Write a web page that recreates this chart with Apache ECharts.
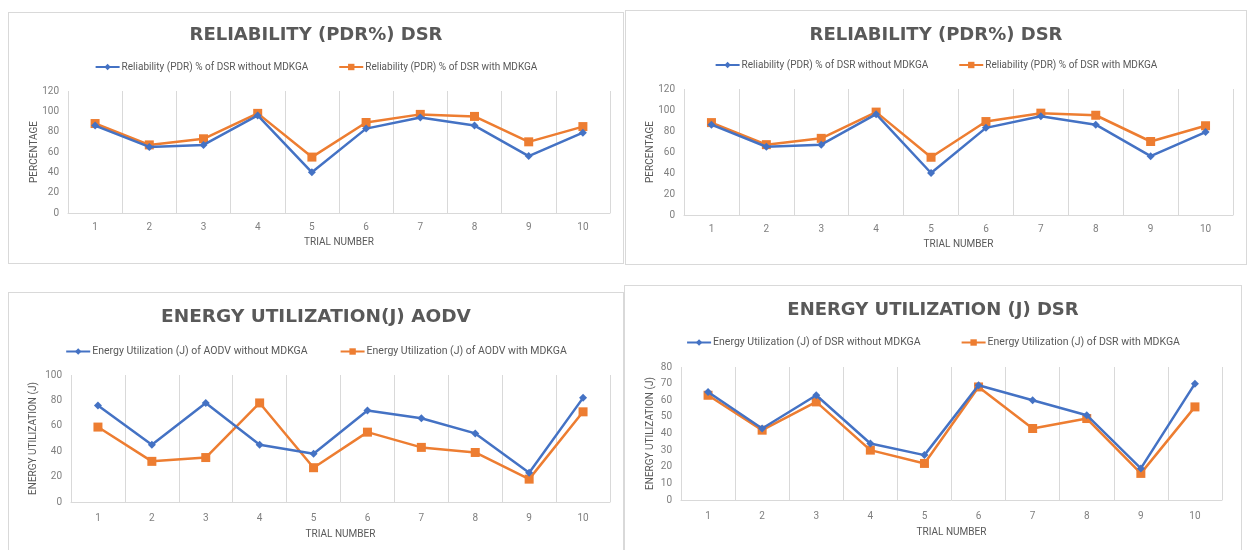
<!DOCTYPE html>
<html>
<head>
<meta charset="utf-8">
<script src="https://cdn.jsdelivr.net/npm/echarts@6/dist/echarts.min.js"></script>
<style>
  html, body { margin: 0; padding: 0; background: #fff; width: 1248px; height: 550px; overflow: hidden; }
  .panel { position: absolute; box-sizing: border-box; border: 1px solid #d9d9d9; background: #fff; }
</style>
</head>
<body>
<div id="p1" class="panel" style="left:8px; top:12px; width:616px; height:252px;"></div>
<div id="p2" class="panel" style="left:625px; top:10px; width:622px; height:255px;"></div>
<div id="p3" class="panel" style="left:8px; top:292px; width:616px; height:262px;"></div>
<div id="p4" class="panel" style="left:624px; top:285px; width:618px; height:269px;"></div>
<script>
// Trial numbers on the x axis
const trials = ['1', '2', '3', '4', '5', '6', '7', '8', '9', '10'];

// Packet delivery ratio (%) for DSR
const pdrDsrWithout = [86, 65, 67, 96, 40, 83, 94, 86, 56, 79];
const pdrDsrWith    = [88, 67, 73, 98, 55, 89, 97, 95, 70, 85];

// Energy utilization (J) for AODV
const energyAodvWithout = [76, 45, 78, 45, 38, 72, 66, 54, 23, 82];
const energyAodvWith    = [59, 32, 35, 78, 27, 55, 43, 39, 18, 71];

// Energy utilization (J) for DSR
const energyDsrWithout = [65, 43, 63, 34, 27, 69, 60, 51, 19, 70];
const energyDsrWith    = [63, 42, 59, 30, 22, 68, 43, 49, 16, 56];

const BLUE = '#4472C4';
const ORANGE = '#ED7D31';
const TEXT = '#595959';
const LIGHT = '#d9d9d9';
const FONT = 'Roboto, sans-serif';
const TITLE_FONT = '"DejaVu Sans", sans-serif';

function makeChart(id, cfg) {
  const chart = echarts.init(document.getElementById(id), null, { renderer: 'canvas' });
  chart.setOption({
    animation: false,
    backgroundColor: 'transparent',
    title: {
      text: cfg.title,
      left: 'center',
      top: cfg.titleTop,
      textStyle: { fontFamily: TITLE_FONT, fontWeight: 'bold', fontSize: cfg.titleSize || 18, color: '#595959' }
    },
    legend: {
      top: cfg.legendTop,
      left: 'center',
      itemWidth: 24,
      itemHeight: 8,
      itemGap: cfg.legendGap || 30,
      textStyle: { fontFamily: FONT, fontSize: cfg.legendSize || 10, color: TEXT, padding: [0, 0, 0, -3] },
      data: [cfg.names[0], cfg.names[1]]
    },
    grid: cfg.grid,
    xAxis: {
      type: 'category',
      data: trials,
      boundaryGap: true,
      name: 'TRIAL NUMBER',
      nameLocation: 'middle',
      nameGap: cfg.xNameGap || 24,
      nameMoveOverlap: false,
      nameTextStyle: { fontFamily: FONT, fontSize: 10, color: TEXT },
      axisLine: { show: true, lineStyle: { color: LIGHT, width: 1 } },
      axisTick: { show: false },
      axisLabel: { fontFamily: FONT, fontSize: 10, color: '#7f7f7f', margin: cfg.xLabelMargin || 9 },
      splitLine: { show: true, interval: 0, lineStyle: { color: LIGHT, width: 1 } }
    },
    yAxis: {
      type: 'value',
      min: 0,
      max: cfg.yMax,
      interval: cfg.yStep,
      name: cfg.yName,
      nameLocation: 'middle',
      nameGap: cfg.yNameGap,
      nameMoveOverlap: false,
      nameRotate: 90,
      nameTextStyle: { fontFamily: FONT, fontSize: 10, color: TEXT },
      axisLine: { show: false },
      axisTick: { show: false },
      axisLabel: { fontFamily: FONT, fontSize: 10, color: '#7f7f7f', margin: 9 },
      splitLine: { show: false }
    },
    series: [
      {
        name: cfg.names[0],
        type: 'line',
        data: cfg.a,
        symbol: 'diamond',
        symbolSize: 8,
        lineStyle: { color: BLUE, width: 2.5 },
        itemStyle: { color: BLUE },
        z: 3
      },
      {
        name: cfg.names[1],
        type: 'line',
        data: cfg.b,
        symbol: 'rect',
        symbolSize: 9,
        lineStyle: { color: ORANGE, width: 2.5 },
        itemStyle: { color: ORANGE },
        z: 2
      }
    ]
  });
}

makeChart('p1', {
  title: 'RELIABILITY (PDR%) DSR',
  titleTop: 8,
  legendTop: 44,
  grid: { left: 59, right: 13, top: 78, bottom: 50 },
  yMax: 120, yStep: 20, yName: 'PERCENTAGE', yNameGap: 29,
  names: ['Reliability (PDR) % of DSR without MDKGA', 'Reliability (PDR) % of DSR with MDKGA'],
  a: pdrDsrWithout, b: pdrDsrWith
});

makeChart('p2', {
  title: 'RELIABILITY (PDR%) DSR',
  titleTop: 10,
  legendTop: 44,
  grid: { left: 58, right: 13, top: 78, bottom: 49 },
  yMax: 120, yStep: 20, yName: 'PERCENTAGE', yNameGap: 29,
  names: ['Reliability (PDR) % of DSR without MDKGA', 'Reliability (PDR) % of DSR with MDKGA'],
  a: pdrDsrWithout, b: pdrDsrWith
});

makeChart('p3', {
  title: 'ENERGY UTILIZATION(J) AODV',
  titleTop: 10,
  titleSize: 18.5,
  legendTop: 48,
  legendSize: 10.5,
  legendGap: 32,
  xNameGap: 27,
  xLabelMargin: 11,
  grid: { left: 62, right: 13, top: 82, bottom: 51 },
  yMax: 100, yStep: 20, yName: 'ENERGY UTILIZATION (J)', yNameGap: 33,
  names: ['Energy Utilization (J) of AODV without MDKGA', 'Energy Utilization (J) of AODV with MDKGA'],
  a: energyAodvWithout, b: energyAodvWith
});

makeChart('p4', {
  title: 'ENERGY UTILIZATION (J) DSR',
  titleTop: 10,
  legendTop: 46,
  legendSize: 10.5,
  legendGap: 40,
  xNameGap: 27,
  xLabelMargin: 11,
  grid: { left: 56, right: 19, top: 81, bottom: 53 },
  yMax: 80, yStep: 10, yName: 'ENERGY UTILIZATION (J)', yNameGap: 26,
  names: ['Energy Utilization (J) of DSR without MDKGA', 'Energy Utilization (J) of DSR with MDKGA'],
  a: energyDsrWithout, b: energyDsrWith
});
</script>
</body>
</html>
